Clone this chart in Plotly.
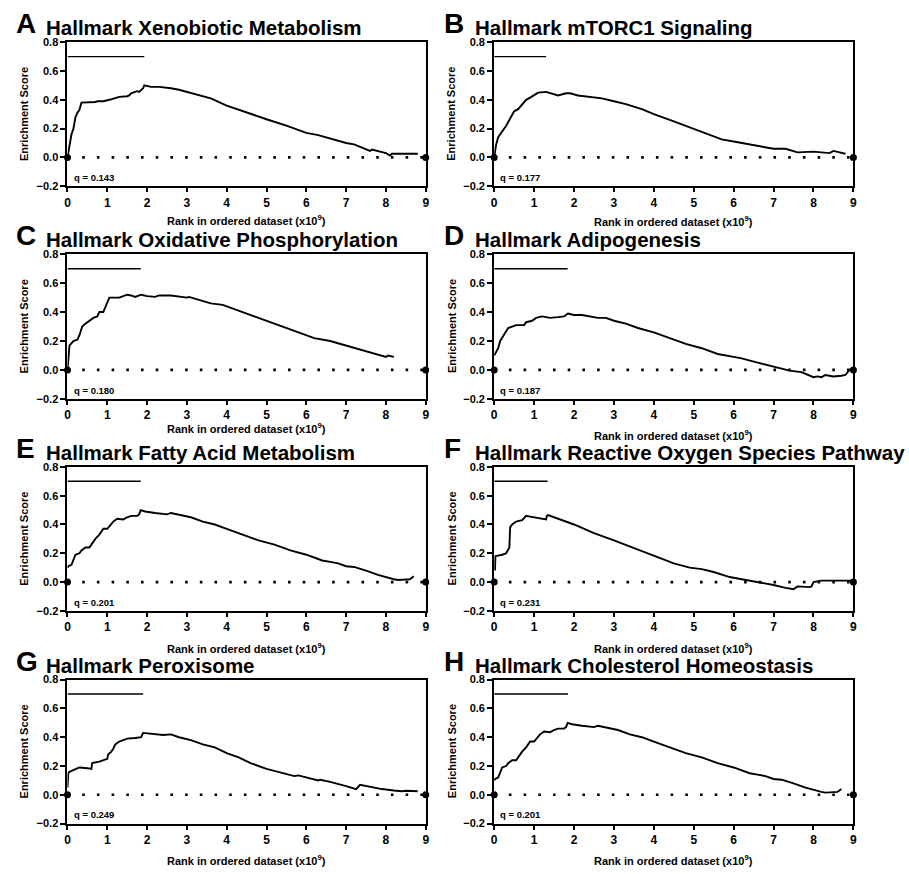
import plotly.graph_objects as go

W, H = 909, 874

letters = ["A", "B", "C", "D", "E", "F", "G", "H"]
titles = [
    "Hallmark Xenobiotic Metabolism",
    "Hallmark mTORC1 Signaling",
    "Hallmark Oxidative Phosphorylation",
    "Hallmark Adipogenesis",
    "Hallmark Fatty Acid Metabolism",
    "Hallmark Reactive Oxygen Species Pathway",
    "Hallmark Peroxisome",
    "Hallmark Cholesterol Homeostasis",
]
q_values = ["0.143", "0.177", "0.180", "0.187", "0.201", "0.231", "0.249", "0.201"]
leading_edge_end = [1.93, 1.30, 1.84, 1.84, 1.84, 1.34, 1.90, 1.85]
leading_edge_level = 0.7
x_ticks = [0, 1, 2, 3, 4, 5, 6, 7, 8, 9]
y_ticks = [-0.2, 0.0, 0.2, 0.4, 0.6, 0.8]
x_range = [0, 9]
y_range = [-0.2, 0.8]

A_rank = [0, 0.05, 0.1, 0.15, 0.2, 0.25, 0.3, 0.35, 0.5, 0.7, 0.75, 0.9, 1.05, 1.15, 1.3, 1.5, 1.55,
          1.6, 1.75, 1.8, 1.9, 1.93, 2.1, 2.3, 2.5, 2.6, 2.8, 3.0, 3.3, 3.6, 4.0, 4.5, 5.0, 5.5, 6.0,
          6.3, 6.6, 7.0, 7.2, 7.6, 7.65, 8.0, 8.1, 8.15, 8.8]
A_es = [0, 0.08, 0.16, 0.2, 0.28, 0.31, 0.33, 0.38, 0.38, 0.385, 0.39, 0.39, 0.40, 0.41, 0.42, 0.425,
        0.43, 0.445, 0.46, 0.455, 0.48, 0.50, 0.49, 0.49, 0.485, 0.48, 0.47, 0.455, 0.43, 0.41, 0.36,
        0.31, 0.265, 0.22, 0.17, 0.155, 0.13, 0.10, 0.09, 0.045, 0.055, 0.03, 0.012, 0.025, 0.025]

B_rank = [0, 0.05, 0.1, 0.2, 0.3, 0.4, 0.5, 0.6, 0.7, 0.8, 0.9, 1.0, 1.1, 1.3, 1.5, 1.6, 1.8, 1.9,
          2.1, 2.4, 2.7, 3.0, 3.3, 3.7, 4.0, 4.5, 5.0, 5.3, 5.7, 6.0, 6.3, 6.6, 7.0, 7.3, 7.6, 8.0,
          8.4, 8.5, 8.8]
B_es = [0, 0.09, 0.14, 0.18, 0.22, 0.27, 0.32, 0.335, 0.37, 0.40, 0.415, 0.43, 0.45, 0.455, 0.44,
        0.43, 0.445, 0.445, 0.43, 0.42, 0.41, 0.39, 0.37, 0.335, 0.30, 0.25, 0.20, 0.17, 0.125, 0.11,
        0.095, 0.08, 0.06, 0.06, 0.035, 0.04, 0.03, 0.045, 0.025]

C_rank = [0, 0.03, 0.05, 0.15, 0.25, 0.3, 0.37, 0.45, 0.55, 0.65, 0.75, 0.8, 0.9, 0.95, 1.0, 1.05,
          1.3, 1.4, 1.5, 1.6, 1.7, 1.85, 2.0, 2.2, 2.3, 2.6, 2.8, 3.0, 3.05, 3.3, 3.6, 3.9, 4.2, 4.6,
          5.0, 5.4, 5.8, 6.2, 6.6, 7.0, 7.5, 7.6, 7.9, 8.0, 8.05, 8.2]
C_es = [0, 0.13, 0.17, 0.2, 0.21, 0.24, 0.3, 0.32, 0.34, 0.36, 0.37, 0.4, 0.4, 0.43, 0.47, 0.5, 0.5,
        0.51, 0.52, 0.515, 0.505, 0.52, 0.51, 0.505, 0.515, 0.515, 0.505, 0.50, 0.505, 0.485, 0.46,
        0.45, 0.42, 0.38, 0.34, 0.30, 0.26, 0.22, 0.20, 0.17, 0.13, 0.12, 0.10, 0.09, 0.10, 0.09]

D_rank = [0, 0.1, 0.15, 0.25, 0.35, 0.45, 0.55, 0.75, 0.8, 0.95, 1.05, 1.2, 1.4, 1.6, 1.75, 1.85,
          2.0, 2.2, 2.4, 2.6, 2.8, 3.0, 3.3, 3.6, 4.0, 4.4, 4.8, 5.2, 5.6, 6.0, 6.2, 6.6, 7.0, 7.4,
          7.7, 7.9, 8.0, 8.1, 8.2, 8.3, 8.5, 8.7, 8.8, 8.9, 9.0]
D_es = [0.1, 0.15, 0.2, 0.25, 0.29, 0.30, 0.31, 0.31, 0.33, 0.34, 0.36, 0.37, 0.36, 0.365, 0.37,
        0.39, 0.38, 0.38, 0.37, 0.36, 0.36, 0.34, 0.32, 0.29, 0.26, 0.22, 0.18, 0.15, 0.11, 0.09,
        0.08, 0.05, 0.02, -0.005, -0.015, -0.04, -0.05, -0.045, -0.05, -0.035, -0.045, -0.04,
        -0.035, 0.0, 0.01]

E_rank = [0, 0.02, 0.1, 0.15, 0.2, 0.3, 0.35, 0.45, 0.55, 0.6, 0.7, 0.8, 0.9, 1.0, 1.1, 1.15, 1.25,
          1.4, 1.5, 1.6, 1.75, 1.8, 1.84, 1.95, 2.2, 2.4, 2.5, 2.6, 2.9, 3.1, 3.4, 3.7, 4.0, 4.4,
          4.8, 5.2, 5.6, 6.0, 6.4, 6.6, 6.8, 7.0, 7.2, 7.5, 7.8, 8.2, 8.3, 8.6, 8.7]
E_es = [0.1, 0.11, 0.12, 0.15, 0.19, 0.2, 0.22, 0.24, 0.24, 0.26, 0.3, 0.33, 0.37, 0.37, 0.4, 0.42,
        0.44, 0.435, 0.45, 0.46, 0.46, 0.47, 0.50, 0.49, 0.48, 0.475, 0.47, 0.48, 0.46, 0.45, 0.42,
        0.40, 0.37, 0.33, 0.29, 0.26, 0.22, 0.19, 0.15, 0.14, 0.13, 0.11, 0.105, 0.08, 0.05, 0.02,
        0.015, 0.02, 0.04]

F_rank = [0.02, 0.03, 0.2, 0.3, 0.38, 0.4, 0.45, 0.55, 0.7, 0.8, 0.9, 1.0, 1.2, 1.3, 1.32, 1.35, 2.0,
          2.5, 3.0, 3.5, 4.0, 4.1, 4.5, 4.9, 5.2, 5.5, 5.8, 5.9, 6.2, 6.5, 6.8, 7.0, 7.3, 7.5, 7.6,
          7.9, 7.95, 8.0, 8.2, 9.0]
F_es = [0.08, 0.18, 0.19, 0.2, 0.24, 0.38, 0.40, 0.42, 0.43, 0.46, 0.455, 0.45, 0.44, 0.435, 0.46,
        0.465, 0.40, 0.34, 0.29, 0.235, 0.18, 0.17, 0.13, 0.10, 0.09, 0.07, 0.04, 0.035, 0.02, 0.005,
        -0.005, -0.02, -0.04, -0.05, -0.03, -0.035, -0.03, 0.0, 0.01, 0.01]

G_rank = [0, 0.02, 0.05, 0.2, 0.3, 0.5, 0.6, 0.62, 0.8, 1.0, 1.02, 1.1, 1.15, 1.2, 1.3, 1.4, 1.5,
          1.7, 1.85, 1.9, 2.1, 2.3, 2.4, 2.6, 2.8, 3.1, 3.4, 3.7, 4.0, 4.3, 4.6, 5.0, 5.4, 5.7, 5.8,
          6.0, 6.3, 6.35, 6.6, 7.0, 7.25, 7.35, 7.6, 7.9, 8.2, 8.4, 8.5, 8.8]
G_es = [0.05, 0.15, 0.16, 0.18, 0.19, 0.185, 0.18, 0.22, 0.23, 0.25, 0.28, 0.30, 0.32, 0.35, 0.37,
        0.38, 0.39, 0.395, 0.40, 0.43, 0.425, 0.42, 0.415, 0.42, 0.40, 0.38, 0.35, 0.33, 0.29, 0.26,
        0.22, 0.18, 0.15, 0.13, 0.135, 0.12, 0.10, 0.105, 0.09, 0.06, 0.04, 0.07, 0.055, 0.04, 0.03,
        0.025, 0.028, 0.025]

H_rank = [0, 0.02, 0.1, 0.15, 0.2, 0.3, 0.35, 0.45, 0.55, 0.6, 0.7, 0.8, 0.9, 1.0, 1.1, 1.15, 1.25,
          1.4, 1.5, 1.6, 1.75, 1.8, 1.84, 1.95, 2.2, 2.4, 2.5, 2.6, 2.9, 3.1, 3.4, 3.7, 4.0, 4.4,
          4.8, 5.2, 5.6, 6.0, 6.4, 6.6, 6.8, 7.0, 7.2, 7.5, 7.8, 8.2, 8.3, 8.6, 8.7]
H_es = [0.1, 0.11, 0.12, 0.15, 0.19, 0.2, 0.22, 0.24, 0.24, 0.26, 0.3, 0.33, 0.37, 0.37, 0.4, 0.42,
        0.44, 0.435, 0.45, 0.46, 0.46, 0.47, 0.50, 0.49, 0.48, 0.475, 0.47, 0.48, 0.46, 0.45, 0.42,
        0.40, 0.37, 0.33, 0.29, 0.26, 0.22, 0.19, 0.15, 0.14, 0.13, 0.11, 0.105, 0.08, 0.05, 0.02,
        0.015, 0.02, 0.04]

ranks = [A_rank, B_rank, C_rank, D_rank, E_rank, F_rank, G_rank, H_rank]
scores = [A_es, B_es, C_es, D_es, E_es, F_es, G_es, H_es]

# ---- layout geometry (pixels) ----
col_left = [65, 495]
col_right = [426, 857]
row_top = [36.7, 251.7, 467.3, 683]
row_bottom = [182.7, 398.3, 613.3, 829]
xtitle_y = [217, 218, 428, 435, 651, 651, 866, 866]
letter_x = [12, 443]
title_x = [42, 475]
ytitle_x = [21, 452]

FONT = "Arial, Liberation Sans, sans-serif"


def py(p):
    return 1 - p / H


def px(p):
    return p / W


fig = go.Figure()
layout = dict(
    width=W, height=H, margin=dict(l=0, r=0, t=0, b=0),
    paper_bgcolor="white", plot_bgcolor="white", showlegend=False,
    font=dict(family=FONT, color="black"),
)
annotations = []

for i in range(8):
    r, c = divmod(i, 2)
    n = i + 1
    xa = "x" if n == 1 else f"x{n}"
    ya = "y" if n == 1 else f"y{n}"
    xkey = "xaxis" if n == 1 else f"xaxis{n}"
    ykey = "yaxis" if n == 1 else f"yaxis{n}"
    layout[xkey] = dict(
        domain=[px(col_left[c]), px(col_right[c])], anchor=ya, range=x_range,
        tickvals=x_ticks, ticks="outside", ticklen=4, tickwidth=2, tickcolor="black",
        showline=True, linewidth=2, linecolor="black", mirror=True,
        showgrid=False, zeroline=False,
        tickfont=dict(family=FONT, size=12, color="black", weight="bold"),
    )
    layout[ykey] = dict(
        domain=[py(row_bottom[r]), py(row_top[r])], anchor=xa, range=y_range,
        tickvals=y_ticks, tickformat=".1f", ticks="outside", ticklen=5, tickwidth=2,
        tickcolor="black", showline=True, linewidth=2, linecolor="black", mirror=True,
        showgrid=False, zeroline=False,
        tickfont=dict(family=FONT, size=11, color="black", weight="bold"),
    )

    # dotted zero line
    fig.add_trace(go.Scatter(
        x=x_range, y=[0, 0], xaxis=xa, yaxis=ya, mode="lines+markers",
        line=dict(color="black", width=2.6, dash="2.6px,12.1px"),
        marker=dict(size=7, color="black"), hoverinfo="skip", cliponaxis=False,
    ))
    # leading edge bar
    fig.add_trace(go.Scatter(
        x=[0, leading_edge_end[i]], y=[leading_edge_level, leading_edge_level],
        xaxis=xa, yaxis=ya, mode="lines", line=dict(color="black", width=1.4),
        hoverinfo="skip",
    ))
    # enrichment curve
    fig.add_trace(go.Scatter(
        x=ranks[i], y=scores[i], xaxis=xa, yaxis=ya, mode="lines",
        line=dict(color="black", width=1.9), hoverinfo="skip",
    ))

    top = row_top[r]
    annotations.append(dict(
        text=letters[i], xref="paper", yref="paper", x=px(letter_x[c]), y=py(top - 2),
        xanchor="left", yanchor="bottom", showarrow=False, borderpad=0,
        font=dict(family=FONT, size=28, color="black", weight="bold"),
    ))
    annotations.append(dict(
        text=titles[i], xref="paper", yref="paper", x=px(title_x[c]), y=py(top - 2),
        xanchor="left", yanchor="bottom", showarrow=False, borderpad=0,
        font=dict(family=FONT, size=20.5, color="black", weight="bold"),
    ))
    annotations.append(dict(
        text="Enrichment Score", xref="paper", yref="paper", x=px(ytitle_x[c]),
        y=py((row_top[r] + row_bottom[r]) / 2), textangle=-90,
        xanchor="center", yanchor="middle", showarrow=False,
        font=dict(family=FONT, size=11, color="black", weight="bold"),
    ))
    annotations.append(dict(
        text="Rank in ordered dataset (x10<sup>9</sup>)", xref="paper", yref="paper",
        x=px((col_left[c] + col_right[c]) / 2), y=py(xtitle_y[i]),
        xanchor="center", yanchor="middle", showarrow=False,
        font=dict(family=FONT, size=11, color="black", weight="bold"),
    ))
    annotations.append(dict(
        text=f"q = {q_values[i]}", xref=f"{xa} domain", yref=ya, x=0.012, y=-0.14,
        xanchor="left", yanchor="middle", showarrow=False,
        font=dict(family=FONT, size=9.5, color="black", weight="bold"),
    ))

layout["annotations"] = annotations
fig.update_layout(**layout)
fig.write_html(
    "out.html",
    config={"displayModeBar": False, "staticPlot": True},
    post_script="document.body.style.margin='0';document.body.style.overflow='hidden';",
)
